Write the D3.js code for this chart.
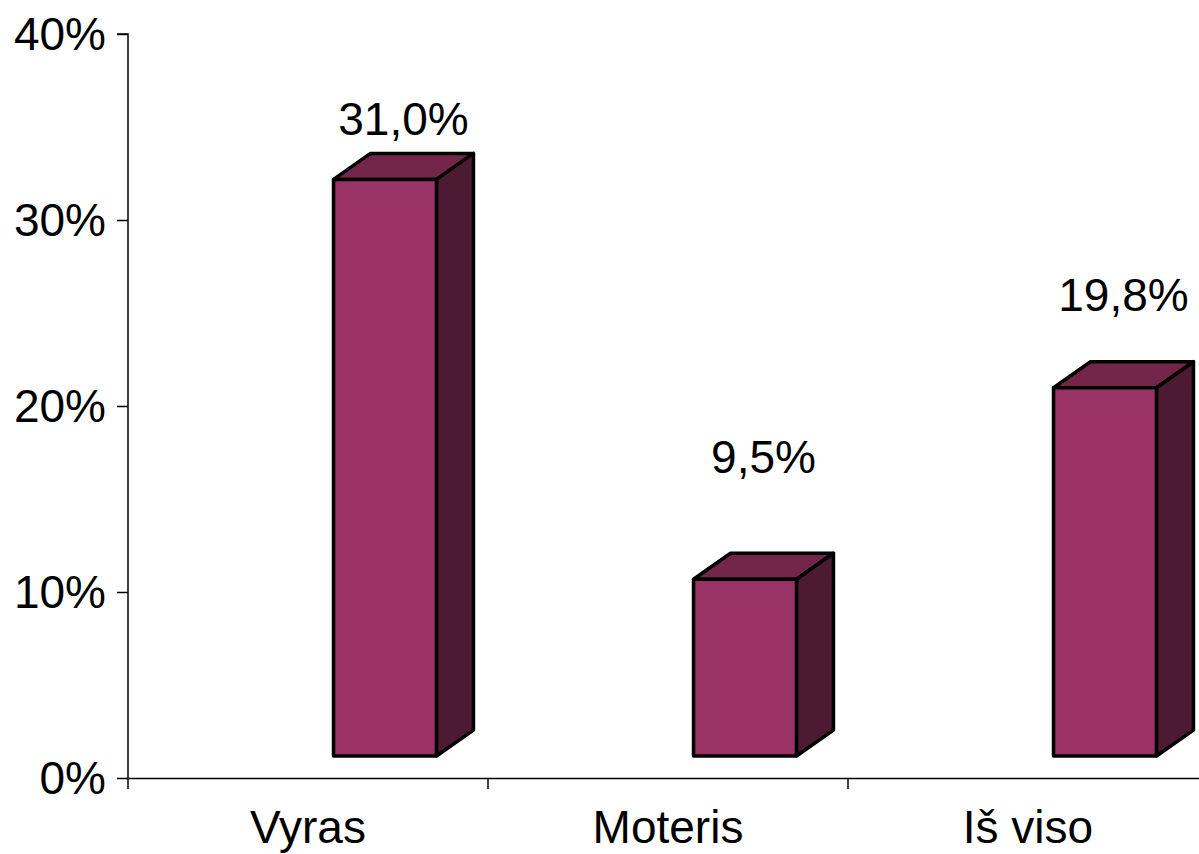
<html>
<head>
  <meta charset="utf-8">
  <script src="https://d3js.org/d3.v7.min.js"></script>
  <style>
  body { margin: 0; background: #fff; }
  text { font-family: "Liberation Sans", Arial, sans-serif; fill: #000; }
  </style>
</head>
<body>
  <div id="chart"></div>

<script>
// chart values
var categories = ["Vyras", "Moteris", "Iš viso"];
var values = [31.0, 9.5, 19.8];
var valueLabels = ["31,0%", "9,5%", "19,8%"];
var yTicks = [0, 10, 20, 30, 40];

var width = 1199,
  height = 854;

var svg = d3.select("#chart").append("svg")
    .attr("width", width)
    .attr("height", height);

var x = d3.scaleBand().domain(categories).range([128, 1208]).padding(0);
var y = d3.scaleLinear().domain([0, 40]).range([778, 34]);
// excel places the 3d labels a bit lower for short bars
var labelY = d3.scaleLinear().domain([0, 40]).range([622, -6]);

var depthX = 37, depthY = -26;   // 3d offset of the back face
var floorLift = 22;              // bars stand on the back floor
var barW = x.bandwidth() * 0.286;
var barShift = 77;

// y axis
var yAxis = d3.axisLeft(y).tickValues(yTicks).tickSize(11).tickFormat(function(d){ return d + "%"; });
var gy = svg.append("g").attr("transform", "translate(128,0)").call(yAxis);
gy.select(".domain").attr("stroke", "#000").attr("stroke-width", 1.5).attr("d", "M-11,34H0V778");
gy.selectAll(".tick line").attr("stroke", "#000").attr("stroke-width", 1.5);
gy.selectAll(".tick text")
  .attr("x", -22)
  .attr("dy", "0.33em")
  .style("font-size", "46px")
  .style("font-family", "'Liberation Sans', Arial, sans-serif");

// x axis
var xAxis = d3.axisBottom(x).tickSize(0).tickSizeOuter(0);
var gx = svg.append("g").attr("transform", "translate(0,778)").call(xAxis);
gx.select(".domain").attr("stroke", "#000").attr("stroke-width", 1.5);
gx.selectAll(".tick line").remove();
gx.selectAll(".tick text")
  .attr("y", 65)
  .attr("dy", 0)
  .style("font-size", "46px")
  .style("font-family", "'Liberation Sans', Arial, sans-serif");

// category separators
var bounds = categories.map(function(c){ return x(c); });
svg.selectAll("line.sep").data(bounds).enter().append("line")
  .attr("class", "sep")
  .attr("x1", function(d){ return d; })
  .attr("x2", function(d){ return d; })
  .attr("y1", 778)
  .attr("y2", 789)
  .attr("stroke", "#000")
  .attr("stroke-width", 1.5);

// bars
var bars = svg.selectAll("g.bar").data(categories).enter().append("g").attr("class", "bar");

function frontL(i){ return x(categories[i]) + x.bandwidth() / 2 + barShift - barW / 2; }
function barTop(i){ return y(values[i]) - floorLift; }
var base = y(0) - floorLift;

bars.append("path")
  .attr("d", function(d, i){
    var l = frontL(i), r = l + barW, t = barTop(i);
    return "M" + l + "," + t + "L" + (l + depthX) + "," + (t + depthY) + "L" + (r + depthX) + "," + (t + depthY) + "L" + r + "," + t + "Z";
  })
  .attr("fill", "#732649")
  .attr("stroke", "#000")
  .attr("stroke-width", 3.5)
  .attr("stroke-linejoin", "round");

bars.append("path")
  .attr("d", function(d, i){
    var r = frontL(i) + barW, t = barTop(i);
    return "M" + r + "," + t + "L" + (r + depthX) + "," + (t + depthY) + "L" + (r + depthX) + "," + (base + depthY) + "L" + r + "," + base + "Z";
  })
  .attr("fill", "#4d1a33")
  .attr("stroke", "#000")
  .attr("stroke-width", 3.5)
  .attr("stroke-linejoin", "round");

bars.append("rect")
  .attr("x", function(d, i){ return frontL(i); })
  .attr("y", function(d, i){ return barTop(i); })
  .attr("width", barW)
  .attr("height", function(d, i){ return base - barTop(i); })
  .attr("fill", "#993366")
  .attr("stroke", "#000")
  .attr("stroke-width", 3.5)
  .attr("stroke-linejoin", "round");

bars.append("text")
  .attr("x", function(d, i){ return frontL(i) + barW / 2 + depthX / 2; })
  .attr("y", function(d, i){ return labelY(values[i]); })
  .attr("text-anchor", "middle")
  .style("font-size", "46px")
  .text(function(d, i){ return valueLabels[i]; });

</script>

</body></html>
